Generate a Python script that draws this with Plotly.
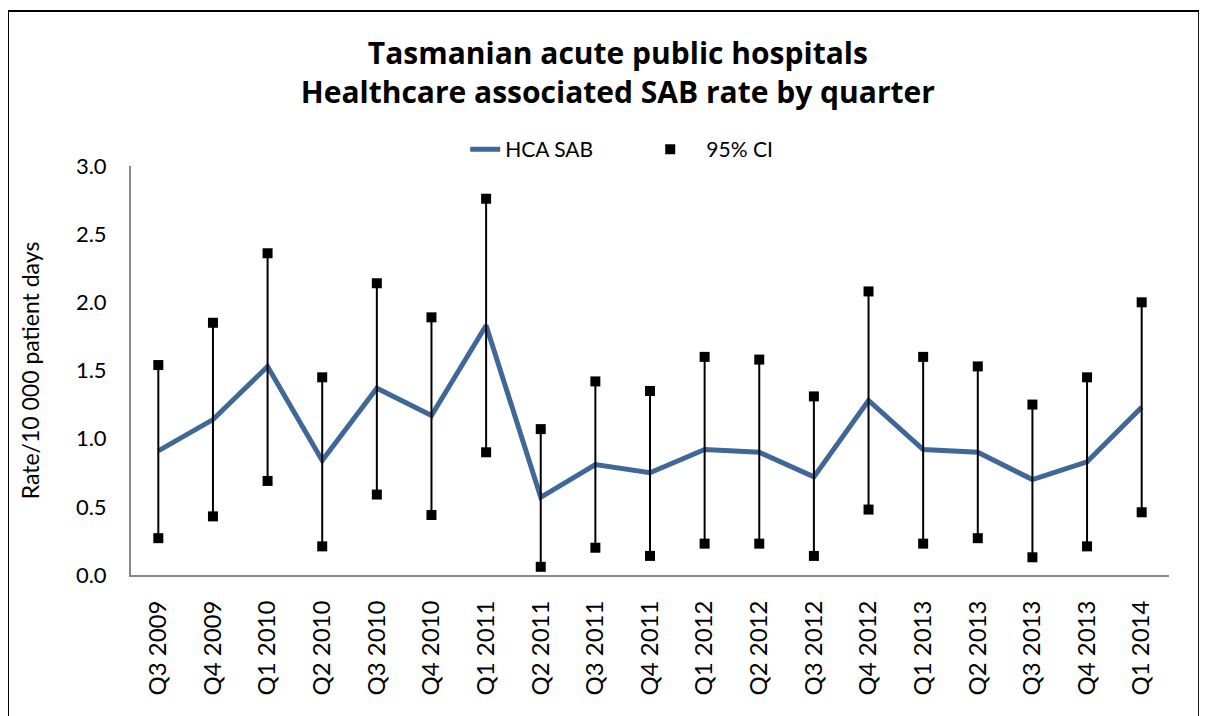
import plotly.graph_objects as go

# quarters on the x axis
quarters = ["Q3 2009", "Q4 2009", "Q1 2010", "Q2 2010", "Q3 2010", "Q4 2010",
            "Q1 2011", "Q2 2011", "Q3 2011", "Q4 2011", "Q1 2012", "Q2 2012",
            "Q3 2012", "Q4 2012", "Q1 2013", "Q2 2013", "Q3 2013", "Q4 2013",
            "Q1 2014"]

# HCA SAB rate per 10 000 patient days
hca_sab = [0.91, 1.14, 1.53, 0.84, 1.37, 1.17, 1.83, 0.57, 0.81, 0.75,
           0.92, 0.90, 0.72, 1.28, 0.92, 0.90, 0.70, 0.83, 1.23]

# 95% confidence interval bounds
ci_upper = [1.54, 1.85, 2.36, 1.45, 2.14, 1.89, 2.76, 1.07, 1.42, 1.35,
            1.60, 1.58, 1.31, 2.08, 1.60, 1.53, 1.25, 1.45, 2.00]
ci_lower = [0.27, 0.43, 0.69, 0.21, 0.59, 0.44, 0.90, 0.06, 0.20, 0.14,
            0.23, 0.23, 0.14, 0.48, 0.23, 0.27, 0.13, 0.21, 0.46]

FONT = "Lato"

# whiskers between the CI bounds, one segment per quarter
wx, wy = [], []
for q, lo, hi in zip(quarters, ci_lower, ci_upper):
    wx += [q, q, None]
    wy += [lo, hi, None]

fig = go.Figure()
fig.add_trace(go.Scatter(x=quarters, y=hca_sab, mode="lines", name="HCA SAB",
                         line=dict(color="#3F6797", width=5)))
fig.add_trace(go.Scatter(x=wx, y=wy, mode="lines", showlegend=False,
                         line=dict(color="black", width=2), hoverinfo="skip"))
fig.add_trace(go.Scatter(x=quarters + quarters, y=ci_upper + ci_lower,
                         mode="markers", name="   95% CI",
                         marker=dict(symbol="square", color="black", size=10)))

# black frame round the whole chart
fig.add_shape(type="rect", xref="paper", yref="paper",
              x0=-0.1185, x1=1.029, y0=-0.4, y1=1.379,
              line=dict(color="black", width=2), fillcolor="rgba(0,0,0,0)")

fig.update_layout(
    width=1207, height=716,
    margin=dict(l=123, r=46, t=158, b=149),
    paper_bgcolor="white", plot_bgcolor="white",
    font=dict(family=FONT, color="black"),
    title=dict(text="<b>Tasmanian acute public hospitals<br>Healthcare associated SAB rate by quarter</b>",
               x=0.469, xref="paper", xanchor="center", y=0.922, yanchor="middle",
               font=dict(size=30, family="Open Sans")),
    legend=dict(orientation="h", x=0.322, xanchor="left", y=1.04, yanchor="middle",
                font=dict(size=21), entrywidth=140, traceorder="normal"),
    showlegend=True,
    xaxis=dict(type="category", showline=True, linecolor="#888888", linewidth=2,
               showgrid=False, ticks="outside", ticklen=14, tickcolor="rgba(0,0,0,0)",
               tickangle=-90, tickfont=dict(size=24), range=[-0.5, 18.5]),
    yaxis=dict(range=[0, 3.0], dtick=0.5, tickformat=".1f", showline=True,
               linecolor="#888888", linewidth=2, showgrid=False, zeroline=False,
               ticks="outside", ticklen=18, tickcolor="rgba(0,0,0,0)",
               tickfont=dict(size=22),
               title=dict(text="Rate/10 000 patient days", font=dict(size=23), standoff=30)),
)

fig.write_html("out.html")
